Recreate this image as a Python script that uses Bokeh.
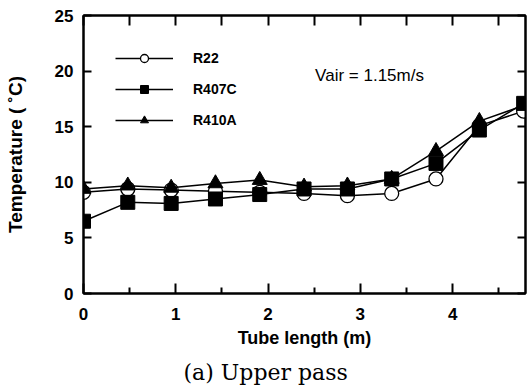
from bokeh.plotting import figure
from bokeh.models import Range1d, LinearAxis, Label, Title, Legend, LegendItem, FixedTicker
from bokeh.embed import file_html
from bokeh.resources import INLINE

tube_length = [0, 0.48, 0.95, 1.43, 1.91, 2.39, 2.86, 3.34, 3.82, 4.29, 4.77]
r22 = [9.1, 9.4, 9.3, 9.2, 9.1, 9.0, 8.8, 9.0, 10.3, 15.1, 16.4]
r407c = [6.5, 8.2, 8.1, 8.5, 8.9, 9.4, 9.4, 10.3, 11.7, 14.7, 17.1]
r410a = [9.4, 9.7, 9.5, 9.9, 10.2, 9.6, 9.7, 10.3, 12.8, 15.5, 16.9]
x_ticks = [0, 1, 2, 3, 4]
x_minor = [0.5, 1.5, 2.5, 3.5, 4.5]
y_ticks = [0, 5, 10, 15, 20, 25]

FONT = "Liberation Sans"

p = figure(width=528, height=392, output_backend="svg", toolbar_location=None,
           x_range=Range1d(0, 4.79), y_range=Range1d(0, 25),
           min_border_left=83, min_border_right=3, min_border_top=15, min_border_bottom=99)
p.grid.visible = False
p.outline_line_color = "black"
p.outline_line_width = 2
p.background_fill_color = None

p.xaxis.ticker = FixedTicker(ticks=x_ticks, minor_ticks=x_minor)
p.xaxis.axis_label = "Tube length (m)"
p.xaxis.axis_label_text_font_size = "18px"
p.yaxis.ticker = FixedTicker(ticks=y_ticks)
p.yaxis.axis_label = "Temperature ( \u02daC)"
p.yaxis.axis_label_text_font_size = "19px"

p.xaxis.major_tick_in = 10
p.xaxis.major_tick_out = 0
p.xaxis.minor_tick_in = 6
p.xaxis.minor_tick_out = 0
p.xaxis.major_tick_line_color = "black"
p.xaxis.minor_tick_line_color = "black"
p.xaxis.major_tick_line_width = 2
p.xaxis.minor_tick_line_width = 2
p.yaxis.major_tick_in = 8
p.yaxis.major_tick_out = 0
p.yaxis.major_tick_line_color = "black"
p.yaxis.major_tick_line_width = 2
p.yaxis.minor_tick_line_color = None

for ax in list(p.xaxis) + list(p.yaxis):
    ax.axis_line_width = 2
    ax.major_label_text_font = FONT
    ax.major_label_text_font_style = "bold"
    ax.major_label_text_font_size = "17px"
    ax.major_label_text_color = "black"
    ax.axis_label_text_font = FONT
    ax.axis_label_text_font_style = "bold"
    ax.axis_label_text_color = "black"
p.xaxis.major_label_standoff = 14
p.xaxis.axis_label_standoff = 5
p.yaxis.major_label_standoff = 10
p.yaxis.axis_label_standoff = 26

top = LinearAxis(ticker=FixedTicker(ticks=x_ticks, minor_ticks=x_minor),
                 major_label_overrides={t: "" for t in x_ticks},
                 major_tick_in=10, major_tick_out=0,
                 minor_tick_in=10, minor_tick_out=0, axis_line_width=2,
                 major_tick_line_width=2, minor_tick_line_width=2,
                 major_tick_line_color="black", minor_tick_line_color="black")
p.add_layout(top, "above")
right = LinearAxis(ticker=FixedTicker(ticks=y_ticks),
                   major_label_overrides={t: "" for t in y_ticks},
                   major_tick_in=8, major_tick_out=0,
                   minor_tick_line_color=None, axis_line_width=2,
                   major_tick_line_width=2, major_tick_line_color="black")
p.add_layout(right, "right")

l1 = p.line(tube_length, r22, line_color="black", line_width=1.5)
m1 = p.scatter(tube_length, r22, marker="circle", size=14, fill_color="white",
               line_color="black", line_width=1.3)
l2 = p.line(tube_length, r407c, line_color="black", line_width=1.5)
m2 = p.scatter(tube_length, r407c, marker="square", size=14, fill_color="black",
               line_color="black")
l3 = p.line(tube_length, r410a, line_color="black", line_width=1.5)
m3 = p.scatter(tube_length, r410a, marker="triangle", size=15, fill_color="black",
               line_color="black")

legend = Legend(items=[LegendItem(label="R22", renderers=[l1, m1]),
                       LegendItem(label="R407C", renderers=[l2, m2]),
                       LegendItem(label="R410A", renderers=[l3, m3])],
                location=(32, 163), glyph_width=58, glyph_height=20, label_height=20,
                label_standoff=20, spacing=11, padding=5, margin=0,
                border_line_color=None, background_fill_alpha=0,
                label_text_font=FONT, label_text_font_style="bold",
                label_text_font_size="14px", label_text_color="black")
p.add_layout(legend, "center")

p.add_layout(Label(x=2.51, y=19.6, text="Vair = 1.15m/s", text_font=FONT,
                   text_font_size="17px", text_baseline="middle", text_color="black"))

p.add_layout(Title(text="(a) Upper pass", align="left", offset=100, standoff=14,
                   text_font="DejaVu Serif", text_font_size="22px",
                   text_font_style="normal", text_color="black"), "below")

open("out.html", "w").write(file_html(p, INLINE))
